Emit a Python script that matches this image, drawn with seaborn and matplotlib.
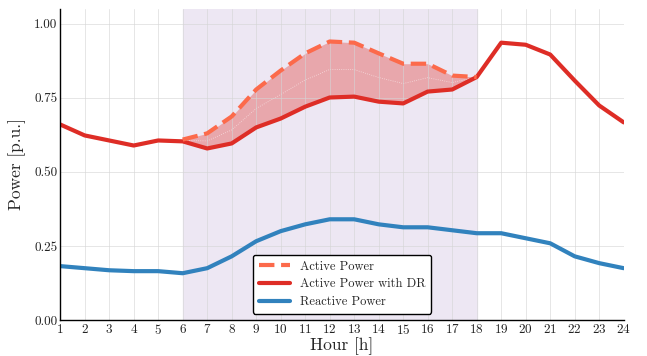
import numpy as np
import pandas as pd
import seaborn as sns
import matplotlib.pyplot as plt

# --- data ---
hours = list(range(1, 25))
active_dr = [0.660, 0.623, 0.606, 0.589, 0.606, 0.603, 0.579, 0.596, 0.650, 0.680,
             0.720, 0.751, 0.754, 0.737, 0.731, 0.771, 0.778, 0.820, 0.936, 0.929,
             0.896, 0.808, 0.724, 0.667]
dr_hours = list(range(6, 19))
active = [0.609, 0.630, 0.687, 0.778, 0.842, 0.900, 0.940, 0.936, 0.900, 0.865,
          0.865, 0.825, 0.820]
reactive = [0.182, 0.175, 0.168, 0.165, 0.165, 0.158, 0.175, 0.215, 0.266, 0.300,
            0.323, 0.340, 0.340, 0.323, 0.313, 0.313, 0.303, 0.293, 0.293, 0.276,
            0.259, 0.215, 0.192, 0.175]

sns.set_style("whitegrid")
plt.rcParams['font.family'] = ['cmr10', 'DejaVu Serif']
plt.rcParams['mathtext.fontset'] = 'cm'
plt.rcParams['axes.formatter.use_mathtext'] = True

fig = plt.figure(figsize=(6.47, 3.56), dpi=100)
ax = fig.add_axes([0.093, 0.101, 0.871, 0.874])

# DR window
ax.axvspan(6, 18, color='#ede7f3', zorder=0)

df_dr = pd.DataFrame({"hour": hours, "p": active_dr})
df_act = pd.DataFrame({"hour": dr_hours, "p": active})
df_q = pd.DataFrame({"hour": hours, "q": reactive})

dr_sub = np.array(active_dr[5:18])
ax.fill_between(dr_hours, dr_sub, active, color='#e0302a', alpha=0.35, lw=0, zorder=2)
ax.plot(dr_hours, (dr_sub + np.array(active)) / 2, color='white', lw=0.6,
        ls=':', alpha=0.6, zorder=2)

sns.lineplot(data=df_act, x="hour", y="p", ax=ax, color='#fc6a4b', lw=3,
             ls='--', dashes=(2.5, 1.5), label='Active Power', zorder=4)
sns.lineplot(data=df_dr, x="hour", y="p", ax=ax, color='#de2d26', lw=3,
             label='Active Power with DR', zorder=3)
sns.lineplot(data=df_q, x="hour", y="q", ax=ax, color='#3182bd', lw=3,
             label='Reactive Power', zorder=3)

ax.set_xlim(1, 24)
ax.set_ylim(0, 1.05)
ax.set_xticks(hours)
ax.set_yticks([0, 0.25, 0.5, 0.75, 1.0])
ax.set_yticklabels(["0.00", "0.25", "0.50", "0.75", "1.00"])
ax.tick_params(labelsize=9.5, direction='in', length=3, colors='#222222', pad=2)
ax.set_xlabel("Hour [h]", fontsize=12.5, labelpad=0)
ax.set_ylabel("Power [p.u.]", fontsize=12.5, labelpad=6)

ax.grid(True, color='#d5d5d5', lw=0.6, alpha=0.7)
ax.set_axisbelow(False)
for s in ['top', 'right']:
    ax.spines[s].set_visible(False)
for s in ['left', 'bottom']:
    ax.spines[s].set_color('black')
    ax.spines[s].set_linewidth(1.0)
    ax.spines[s].set_zorder(5)

leg = ax.legend(loc='lower center', fontsize=9, frameon=True, fancybox=True,
                edgecolor='black', framealpha=1, handlelength=2.5,
                bbox_to_anchor=(0.5, 0.0), borderpad=0.45, labelspacing=0.45)
leg.get_frame().set_linewidth(1.0)

fig.savefig("out.png", dpi=100)
